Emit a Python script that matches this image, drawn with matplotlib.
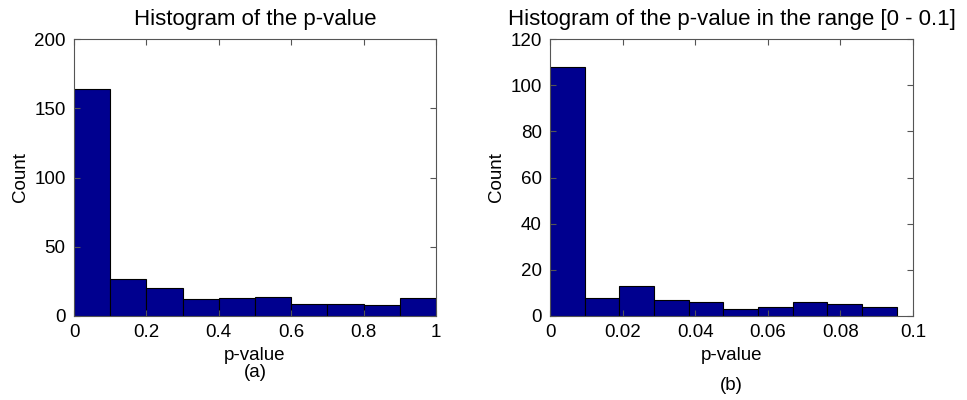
import numpy as np
import matplotlib.pyplot as plt

plt.rcParams['font.family'] = ['Liberation Sans', 'DejaVu Sans']

# panel (a): p-values over [0, 1]
edges_a = np.linspace(0, 1, 11)
counts_a = [164, 27, 20, 12, 13, 14, 9, 9, 8, 13]

# panel (b): p-values in [0, 0.1]
edges_b = np.linspace(0, 0.0955, 11)
counts_b = [108, 8, 13, 7, 6, 3, 4, 6, 5, 4]

bar_color = '#00008F'
fs = 13.5

fig = plt.figure(figsize=(9.67, 4), dpi=100)
ax1 = fig.add_axes([74 / 967, 84 / 400, 362 / 967, 277 / 400])
ax2 = fig.add_axes([550 / 967, 84 / 400, 363 / 967, 277 / 400])


def style(ax):
    ax.tick_params(direction='in', top=True, right=True, labelsize=fs,
                   length=4, color='#555555', pad=6)
    for s in ax.spines.values():
        s.set_color('#555555')
        s.set_linewidth(0.8)


ax1.bar(edges_a[:-1], counts_a, width=np.diff(edges_a), align='edge',
        color=bar_color, edgecolor='black', linewidth=0.8)
ax1.set_xlim(0, 1)
ax1.set_ylim(0, 200)
ax1.set_xticks([0, 0.2, 0.4, 0.6, 0.8, 1])
ax1.set_xticklabels(['0', '0.2', '0.4', '0.6', '0.8', '1'])
ax1.set_yticks([0, 50, 100, 150, 200])
ax1.set_title('Histogram of the p-value', fontsize=16, pad=10)
ax1.set_ylabel('Count', fontsize=fs, labelpad=4)
ax1.set_xlabel('p-value\n(a)', fontsize=fs, linespacing=1.0)
style(ax1)

ax2.bar(edges_b[:-1], counts_b, width=np.diff(edges_b), align='edge',
        color=bar_color, edgecolor='black', linewidth=0.8)
ax2.set_xlim(0, 0.1)
ax2.set_ylim(0, 120)
ax2.set_xticks([0, 0.02, 0.04, 0.06, 0.08, 0.1])
ax2.set_xticklabels(['0', '0.02', '0.04', '0.06', '0.08', '0.1'])
ax2.set_yticks([0, 20, 40, 60, 80, 100, 120])
ax2.set_title('Histogram of the p-value in the range [0 - 0.1]', fontsize=16, pad=10)
ax2.set_ylabel('Count', fontsize=fs, labelpad=4)
ax2.set_xlabel('p-value\n\n(b)', fontsize=fs, linespacing=0.85)
style(ax2)

fig.savefig('out.png', dpi=100)
